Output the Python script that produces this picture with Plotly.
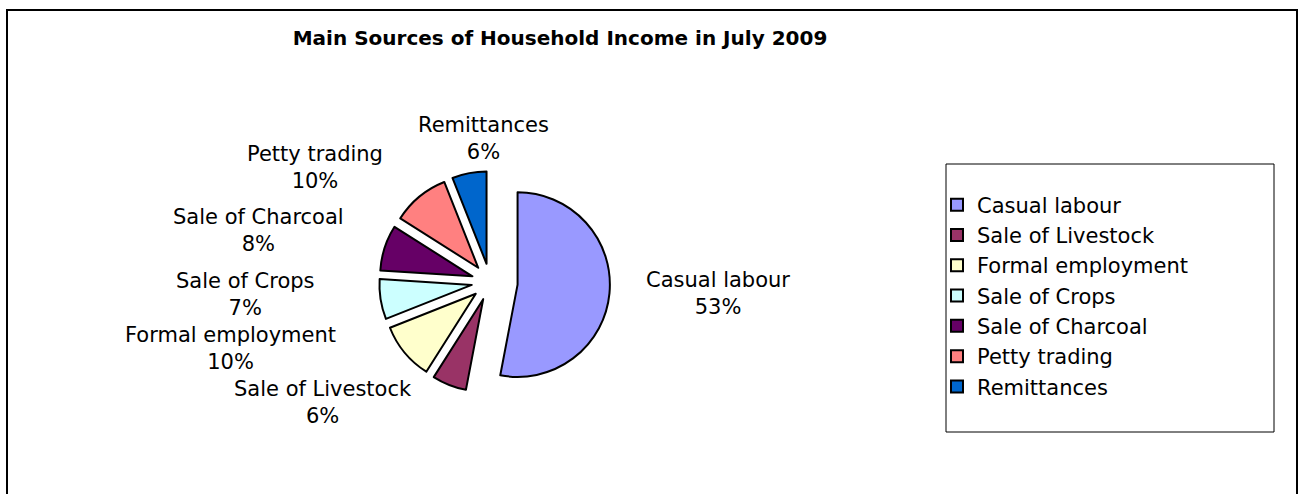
import plotly.graph_objects as go

# Data
categories = ["Casual labour", "Sale of Livestock", "Formal employment",
              "Sale of Crops", "Sale of Charcoal", "Petty trading", "Remittances"]
values = [53, 6, 10, 7, 8, 10, 6]

# Styles / layout (pixel positions of the slice labels)
colors = ["#9999FF", "#993366", "#FFFFCC", "#CCFFFF", "#660066", "#FF8080", "#0066CC"]
pulls = [0.3, 0.2, 0.2, 0.2, 0.2, 0.2, 0.2]
label_pos = [(718, 293), (323, 402), (230, 348), (245, 294),
             (258, 230), (315, 167), (483, 138)]

W, H = 1298, 494
FONT = "DejaVu Sans"
FS = 21

# pie domain (pixels): centre and size
PCX, PCY, PSIZE = 490, 282, 240

fig = go.Figure()
fig.add_trace(go.Pie(
    labels=categories,
    values=values,
    sort=False,
    direction="clockwise",
    rotation=0,
    pull=pulls,
    marker=dict(colors=colors, line=dict(color="black", width=2)),
    textinfo="none",
    domain=dict(x=[(PCX - PSIZE / 2) / W, (PCX + PSIZE / 2) / W],
                y=[1 - (PCY + PSIZE / 2) / H, 1 - (PCY - PSIZE / 2) / H]),
    hoverinfo="label+percent",
    showlegend=True,
))

total = sum(values)
annotations = []
for cat, v, (px, py) in zip(categories, values, label_pos):
    pct = round(100 * v / total)
    annotations.append(dict(
        text=f"{cat}<br>{pct}%", xref="paper", yref="paper",
        x=px / W, y=1 - py / H, xanchor="center", yanchor="middle",
        showarrow=False, align="center",
        font=dict(family=FONT, size=FS, color="black"),
    ))

fig.update_layout(
    width=W, height=H,
    margin=dict(l=0, r=0, t=0, b=0),
    paper_bgcolor="white",
    plot_bgcolor="white",
    title=dict(
        text="<b>Main Sources of Household Income in July 2009</b>",
        x=560 / W, xanchor="center", xref="paper",
        y=1 - 38 / H, yanchor="middle", yref="paper",
        font=dict(family=FONT, size=20, color="black"),
    ),
    legend=dict(
        x=937 / W, y=1 - 296 / H, xanchor="left", yanchor="middle",
        bgcolor="rgba(0,0,0,0)", borderwidth=0,
        font=dict(family=FONT, size=FS, color="black"),
    ),
    annotations=annotations,
    shapes=[
        dict(type="rect", xref="paper", yref="paper",
             x0=7 / W, x1=1297 / W, y0=-0.1, y1=1 - 10 / H,
             line=dict(color="black", width=2), fillcolor="rgba(0,0,0,0)", layer="below"),
        dict(type="rect", xref="paper", yref="paper",
             x0=946 / W, x1=1274 / W, y0=1 - 432 / H, y1=1 - 164 / H,
             line=dict(color="black", width=1), fillcolor="rgba(0,0,0,0)", layer="below"),
    ],
)

fig.write_html("out.html", config={"displayModeBar": False},
               post_script="document.body.style.margin='0';")
